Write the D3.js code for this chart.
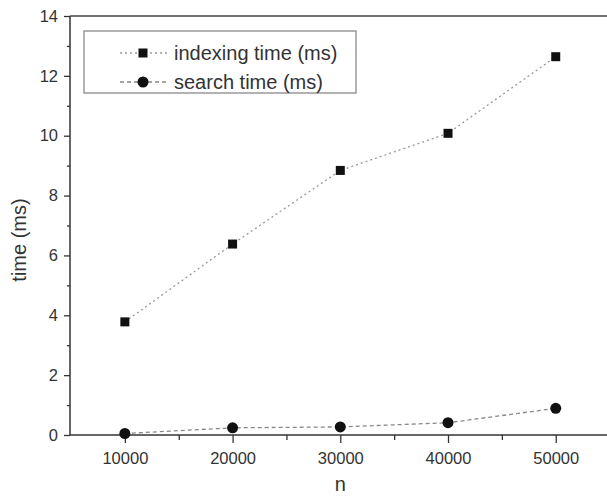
<!DOCTYPE html>
<html>
<head>
<meta charset="utf-8">
<script src="https://cdn.jsdelivr.net/npm/d3@7"></script>
<style>
  body { margin: 0; background: #fff; }
  svg { display: block; font-family: 'Liberation Sans', Arial, sans-serif; }
</style>
</head>
<body>
<svg id="chart" width="607" height="497"></svg>
<script>
const nValues = [10000, 20000, 30000, 40000, 50000];
const indexingTime = [3.78, 6.38, 8.84, 10.08, 12.64];
const searchTime = [0.05, 0.24, 0.27, 0.41, 0.89];
const xTicks = [10000, 20000, 30000, 40000, 50000];
const xMinorTicks = [15000, 25000, 35000, 45000];
const yTicks = [0, 2, 4, 6, 8, 10, 12, 14];
const yMinorTicks = [1, 3, 5, 7, 9, 11, 13];

const W = 607, H = 497;
const svg = d3.select('#chart');

const x = d3.scaleLinear().domain([5000, 55000]).range([71, 609.6]);
const y = d3.scaleLinear().domain([0, 14]).range([435, 16]);

const TEXT = '#333';

// frame top line
svg.append('line')
  .attr('x1', 70).attr('x2', W).attr('y1', y(14)).attr('y2', y(14))
  .attr('stroke', '#444').attr('stroke-width', 1.5);

// minor ticks
const xMinorG = svg.append('g').attr('transform', `translate(0, ${y(0)})`)
  .call(d3.axisBottom(x).tickValues(xMinorTicks).tickSize(5).tickFormat(''));
const yMinorG = svg.append('g').attr('transform', `translate(70, 0)`)
  .call(d3.axisLeft(y).tickValues(yMinorTicks).tickSize(3).tickFormat(''));

const xG = svg.append('g').attr('transform', `translate(0, ${y(0)})`)
  .call(d3.axisBottom(x).tickValues(xTicks).tickSize(8).tickPadding(6).tickFormat(d3.format('d')));
const yG = svg.append('g').attr('transform', `translate(70, 0)`)
  .call(d3.axisLeft(y).tickValues(yTicks).tickSize(6).tickPadding(6).tickFormat(d3.format('d')));

[xMinorG, yMinorG, xG, yG].forEach(g => {
  g.select('.domain').remove();
  g.selectAll('.tick line').attr('stroke', '#333').attr('stroke-width', 1.3);
  g.selectAll('text').attr('fill', TEXT).style('font-size', '16.5px')
    .style('font-family', "'Liberation Sans', Arial, sans-serif");
});
xG.selectAll('text').attr('dy', '0.9em');

// axis lines
svg.append('line')
  .attr('x1', 70).attr('x2', W).attr('y1', y(0)).attr('y2', y(0))
  .attr('stroke', '#333').attr('stroke-width', 1.5);
svg.append('line')
  .attr('x1', 70).attr('x2', 70).attr('y1', y(14)).attr('y2', y(0))
  .attr('stroke', '#333').attr('stroke-width', 1.5);

// series
const series = [
  { name: 'indexing time (ms)', values: indexingTime, dash: '2,3', color: '#999', shape: 'square' },
  { name: 'search time (ms)', values: searchTime, dash: '4,3', color: '#888', shape: 'circle' },
];

const line = d3.line().x(d => x(d[0])).y(d => y(d[1]));

function drawMarker(g, shape, cx, cy) {
  if (shape === 'square') {
    g.append('rect').attr('x', cx - 4.5).attr('y', cy - 4.5)
      .attr('width', 9).attr('height', 9).attr('fill', '#111');
  } else {
    g.append('circle').attr('cx', cx).attr('cy', cy).attr('r', 5.5).attr('fill', '#111');
  }
}

series.forEach(s => {
  const pts = nValues.map((n, i) => [n, s.values[i]]);
  svg.append('path').datum(pts).attr('d', line)
    .attr('fill', 'none').attr('stroke', s.color).attr('stroke-width', 1.3)
    .attr('stroke-dasharray', s.dash);
  const mg = svg.append('g');
  pts.forEach(p => drawMarker(mg, s.shape, x(p[0]), y(p[1])));
});

// legend
const legend = svg.append('g');
legend.append('rect').attr('x', 84).attr('y', 31).attr('width', 272).attr('height', 62)
  .attr('fill', '#fff').attr('stroke', '#999').attr('stroke-width', 1.5);
series.forEach((s, i) => {
  const ly = 53 + i * 29;
  legend.append('line').attr('x1', 120).attr('x2', 168).attr('y1', ly).attr('y2', ly)
    .attr('stroke', s.color).attr('stroke-width', 1.3).attr('stroke-dasharray', s.dash);
  drawMarker(legend, s.shape, 143, ly);
  legend.append('text').attr('x', 174).attr('y', ly).attr('dy', '0.35em')
    .attr('fill', TEXT).style('font-size', '20px').text(s.name);
});

// axis titles
svg.append('text').attr('x', x(30000)).attr('y', 491).attr('text-anchor', 'middle')
  .attr('fill', TEXT).style('font-size', '20px').text('n');
svg.append('text').attr('transform', `translate(26, 240) rotate(-90)`)
  .attr('text-anchor', 'middle').attr('fill', TEXT).style('font-size', '20px').text('time (ms)');
</script>
</body>
</html>
